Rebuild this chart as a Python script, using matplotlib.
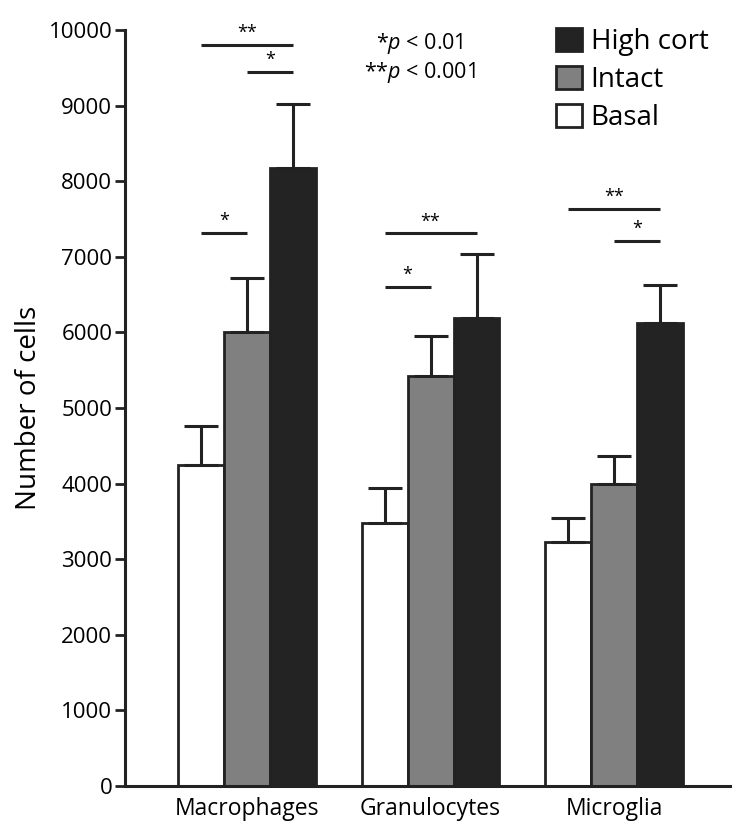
import numpy as np
import matplotlib.pyplot as plt
from matplotlib.patches import Patch

plt.rcParams['font.family'] = ['Open Sans', 'DejaVu Sans']
plt.rcParams['mathtext.fontset'] = 'custom'
plt.rcParams['mathtext.it'] = 'Open Sans:italic'
plt.rcParams['mathtext.rm'] = 'Open Sans'

categories = ['Macrophages', 'Granulocytes', 'Microglia']
groups = ['Basal', 'Intact', 'High cort']
basal = [4250, 3480, 3230]
basal_err = [510, 460, 320]
intact = [6000, 5430, 4000]
intact_err = [720, 520, 370]
high = [8170, 6190, 6120]
high_err = [850, 850, 510]

# significance brackets: category, first bar, second bar, height, label
sig_cat = [0, 0, 0, 1, 1, 2, 2]
sig_a = [0, 1, 0, 0, 0, 0, 1]
sig_b = [2, 2, 1, 2, 1, 2, 2]
sig_y = [9800, 9450, 7320, 7310, 6600, 7630, 7210]
sig_lab = ['**', '*', '*', '**', '*', '**', '*']

colors = ['white', '#808080', '#232323']
width = 0.25

fig = plt.figure(figsize=(7.52, 8.35), dpi=100)
ax = fig.add_axes([0.166, 0.0587, 0.805, 0.9053])

x = np.arange(len(categories))
vals = [basal, intact, high]
errs = [basal_err, intact_err, high_err]
for k in range(3):
    ax.bar(x + (k - 1) * width, vals[k], width, color=colors[k],
           edgecolor='#222222', linewidth=2,
           yerr=[np.zeros(3), errs[k]], capsize=12,
           error_kw=dict(ecolor='#222222', elinewidth=2.2, capthick=2.2),
           zorder=2)

for c, a, b, y, lab in zip(sig_cat, sig_a, sig_b, sig_y, sig_lab):
    x0 = c + (a - 1) * width
    x1 = c + (b - 1) * width
    ax.plot([x0, x1], [y, y], color='#222222', lw=2.2, solid_capstyle='butt')
    ax.text((x0 + x1) / 2, y + 40, lab, ha='center', va='bottom', fontsize=13)

ax.set_xlim(-0.663, 2.63)
ax.set_ylim(0, 10000)
ax.set_yticks(np.arange(0, 10001, 1000))
ax.set_xticks(x)
ax.set_xticklabels(categories, fontsize=16.5)
ax.tick_params(axis='x', length=0, pad=8)
ax.tick_params(axis='y', labelsize=16, width=2, length=7, color='#222222', pad=2)
for s in ['top', 'right']:
    ax.spines[s].set_visible(False)
for s in ['left', 'bottom']:
    ax.spines[s].set_linewidth(2.2)
    ax.spines[s].set_color('#222222')
ax.set_ylabel('Number of cells', fontsize=20, labelpad=4)

fig.text(0.558, 0.948, '*$p$ < 0.01', ha='center', va='center', fontsize=15.5)
fig.text(0.558, 0.913, '**$p$ < 0.001', ha='center', va='center', fontsize=15.5)

handles = [Patch(facecolor=colors[k], edgecolor='#222222', linewidth=2)
           for k in [2, 1, 0]]
fig.legend(handles, [groups[k] for k in [2, 1, 0]], loc='upper left',
           bbox_to_anchor=(556 / 752, 1 - 28 / 835), frameon=False,
           fontsize=20, borderpad=0, borderaxespad=0,
           handlelength=0.95, handleheight=0.9, handletextpad=0.3,
           labelspacing=0.36)

fig.savefig('out.png', dpi=100)
